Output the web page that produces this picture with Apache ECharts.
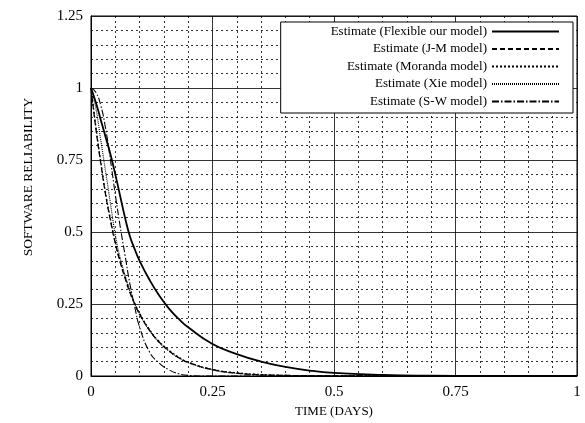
<!DOCTYPE html>
<html>
<head>
<meta charset="utf-8">
<script src="https://cdn.jsdelivr.net/npm/echarts@6/dist/echarts.min.js"></script>
<style>
  html, body { margin: 0; padding: 0; background: #fff; }
  #chart { width: 585px; height: 423px; }
</style>
</head>
<body>
<div id="chart"></div>
<script>
// time points (days) shared by every curve
var days = [0, 0.01, 0.02, 0.03, 0.04, 0.05, 0.06, 0.07, 0.08, 0.09, 0.10,
            0.12, 0.14, 0.16, 0.18, 0.20, 0.25, 0.30, 0.35, 0.40, 0.45, 0.50,
            0.60, 0.70, 0.80, 0.90, 1.00];

// reliability
var flexible = [1, 0.95, 0.89, 0.83, 0.77, 0.70, 0.625, 0.55, 0.485, 0.44, 0.40,
                0.335, 0.28, 0.235, 0.199, 0.169, 0.111, 0.076, 0.05, 0.032, 0.019, 0.011,
                0.004, 0.001, 0, 0, 0];
var jm = [1, 0.86, 0.74, 0.63, 0.54, 0.46, 0.395, 0.34, 0.29, 0.25, 0.215,
          0.16, 0.118, 0.088, 0.064, 0.047, 0.022, 0.010, 0.004, 0.002, 0.001, 0,
          0, 0, 0, 0, 0];
var moranda = [1, 0.865, 0.745, 0.635, 0.545, 0.465, 0.40, 0.345, 0.295, 0.253, 0.218,
               0.162, 0.12, 0.09, 0.066, 0.048, 0.023, 0.011, 0.005, 0.002, 0.001, 0,
               0, 0, 0, 0, 0];
var xie = [1, 0.93, 0.82, 0.71, 0.60, 0.49, 0.41, 0.35, 0.295, 0.25, 0.213,
           0.158, 0.117, 0.087, 0.063, 0.046, 0.021, 0.009, 0.004, 0.002, 0.001, 0,
           0, 0, 0, 0, 0];
var sw = [1, 0.985, 0.94, 0.86, 0.75, 0.63, 0.52, 0.42, 0.32, 0.24, 0.17,
          0.085, 0.045, 0.022, 0.008, 0.002, 0, 0, 0, 0, 0, 0,
          0, 0, 0, 0, 0];

var names = ['Estimate (Flexible our model)', 'Estimate (J-M model)',
             'Estimate (Moranda model)', 'Estimate (Xie model)', 'Estimate (S-W model)'];

function pairs(vals) {
    var res = [];
    for (var i = 0; i < days.length; i++) {
        res.push([days[i], vals[i]]);
    }
    return res;
}

var serif = 'Liberation Serif';

function curve(name, vals, type, width) {
    return {
        name: name,
        type: 'line',
        data: pairs(vals),
        symbol: 'none',
        smooth: 0.5,
        lineStyle: { color: '#000', width: width, type: type },
        itemStyle: { color: '#000' },
        animation: false
    };
}

var chart = echarts.init(document.getElementById('chart'));
var option = {
    backgroundColor: '#fff',
    animation: false,
    grid: {
        left: 91, right: 8, top: 16, bottom: 47,
        show: true, borderColor: '#000', borderWidth: 1
    },
    legend: {
        orient: 'vertical',
        right: 12,
        top: 22,
        align: 'right',
        padding: [3, 13, 5, 50],
        itemGap: 4.5,
        itemWidth: 67,
        itemHeight: 10,
        backgroundColor: '#fff',
        borderColor: '#000',
        borderWidth: 1,
        data: names,
        itemStyle: { opacity: 0 },
        textStyle: {
            fontFamily: serif, fontSize: 13, color: '#000',
            width: 163, align: 'right'
        }
    },
    xAxis: {
        type: 'value',
        min: 0, max: 1, interval: 0.25,
        name: 'TIME (DAYS)',
        nameLocation: 'middle',
        nameGap: 27,
        nameTextStyle: { fontFamily: serif, fontSize: 13, color: '#000' },
        axisLine: { lineStyle: { color: '#000' } },
        axisTick: { show: false },
        axisLabel: { fontFamily: serif, fontSize: 15, color: '#000', margin: 9 },
        splitLine: { lineStyle: { color: '#000', width: 0.8 } },
        minorTick: { show: false, splitNumber: 5 },
        minorSplitLine: { show: true, lineStyle: { color: '#000', width: 0.8, type: [2, 3] } }
    },
    yAxis: {
        type: 'value',
        min: 0, max: 1.25, interval: 0.25,
        name: 'SOFTWARE RELIABILITY',
        nameLocation: 'middle',
        nameGap: 56,
        nameTextStyle: { fontFamily: serif, fontSize: 13.5, color: '#000', padding: [0, 0, 0, 38] },
        axisLine: { lineStyle: { color: '#000' } },
        axisTick: { show: false },
        axisLabel: { fontFamily: serif, fontSize: 15, color: '#000', margin: 8 },
        splitLine: { lineStyle: { color: '#000', width: 0.8 } },
        minorTick: { show: false, splitNumber: 5 },
        minorSplitLine: { show: true, lineStyle: { color: '#000', width: 0.8, type: [2, 3] } }
    },
    series: [
        curve(names[0], flexible, 'solid', 1.8),
        curve(names[1], jm, [5, 3], 1.3),
        curve(names[2], moranda, [2, 2], 1.3),
        curve(names[3], xie, [1, 1], 1.1),
        curve(names[4], sw, [7, 2, 1.5, 2], 1.1)
    ]
};
chart.setOption(option);
</script>
</body>
</html>
